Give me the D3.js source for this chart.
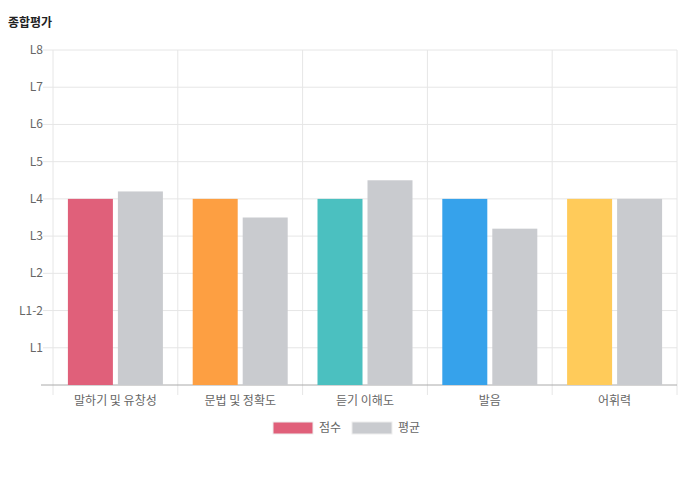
<!DOCTYPE html><html><head><meta charset="utf-8"><script src="https://cdn.jsdelivr.net/npm/d3@7"></script>
<style>body{margin:0;background:#fff}text{font-family:"Noto Sans CJK KR","Noto Sans",sans-serif}</style></head><body><svg id="c" width="698" height="479"></svg>
<script>
const categories=["말하기 및 유창성","문법 및 정확도","듣기 이해도","발음","어휘력"];
const scores=[5,5,5,5,5];
const averages=[5.2,4.5,5.5,4.2,5];
const scoreColors=["#e0607a","#fd9f42","#4bc0c0","#36a2eb","#ffcb5a"];
const avgColor="#c9cbcf";
const tickLabels=["L1","L1-2","L2","L3","L4","L5","L6","L7","L8"];
const svg=d3.select("#c");
const L=53,R=677,T=50,B=385;
const x=d3.scaleBand().domain(categories).range([L,R]);
const y=d3.scaleLinear().domain([0,9]).range([B,T]);
const g=svg.append("g");
// horizontal grid
for(let v=1;v<=9;v++){g.append("line").attr("x1",L-10).attr("x2",R).attr("y1",y(v)).attr("y2",y(v)).attr("stroke","#e6e6e6");
g.append("text").attr("x",L-10).attr("y",y(v)+4).attr("text-anchor","end").attr("font-size",12).attr("fill","#666").text(tickLabels[v-1]);}
// vertical grid
for(let i=0;i<=categories.length;i++){const xx=L+i*x.bandwidth();g.append("line").attr("x1",xx).attr("x2",xx).attr("y1",T).attr("y2",B+10).attr("stroke","#e6e6e6");}
g.append("line").attr("x1",L-12).attr("x2",R).attr("y1",B).attr("y2",B).attr("stroke","#aaa");
const bw=45,gap=5;
categories.forEach((c,i)=>{const cx=x(c)+x.bandwidth()/2;
g.append("rect").attr("x",cx-gap/2-bw).attr("width",bw).attr("y",y(scores[i])).attr("height",B-y(scores[i])).attr("fill",scoreColors[i]);
g.append("rect").attr("x",cx+gap/2).attr("width",bw).attr("y",y(averages[i])).attr("height",B-y(averages[i])).attr("fill",avgColor);
g.append("text").attr("x",cx).attr("y",B+20).attr("text-anchor","middle").attr("font-size",12).attr("fill","#666").text(c);});
svg.append("text").attr("x",8).attr("y",27).attr("font-size",12).attr("font-weight","bold").attr("fill","#222").text("종합평가");
const leg=[["점수",scoreColors[0],273],["평균",avgColor,352]];
leg.forEach(([t,c,lx])=>{svg.append("rect").attr("x",lx).attr("y",422).attr("width",40).attr("height",12).attr("fill",c).attr("stroke","#eee");
svg.append("text").attr("x",lx+46).attr("y",432).attr("font-size",12).attr("fill","#666").text(t);});
</script></body></html>
